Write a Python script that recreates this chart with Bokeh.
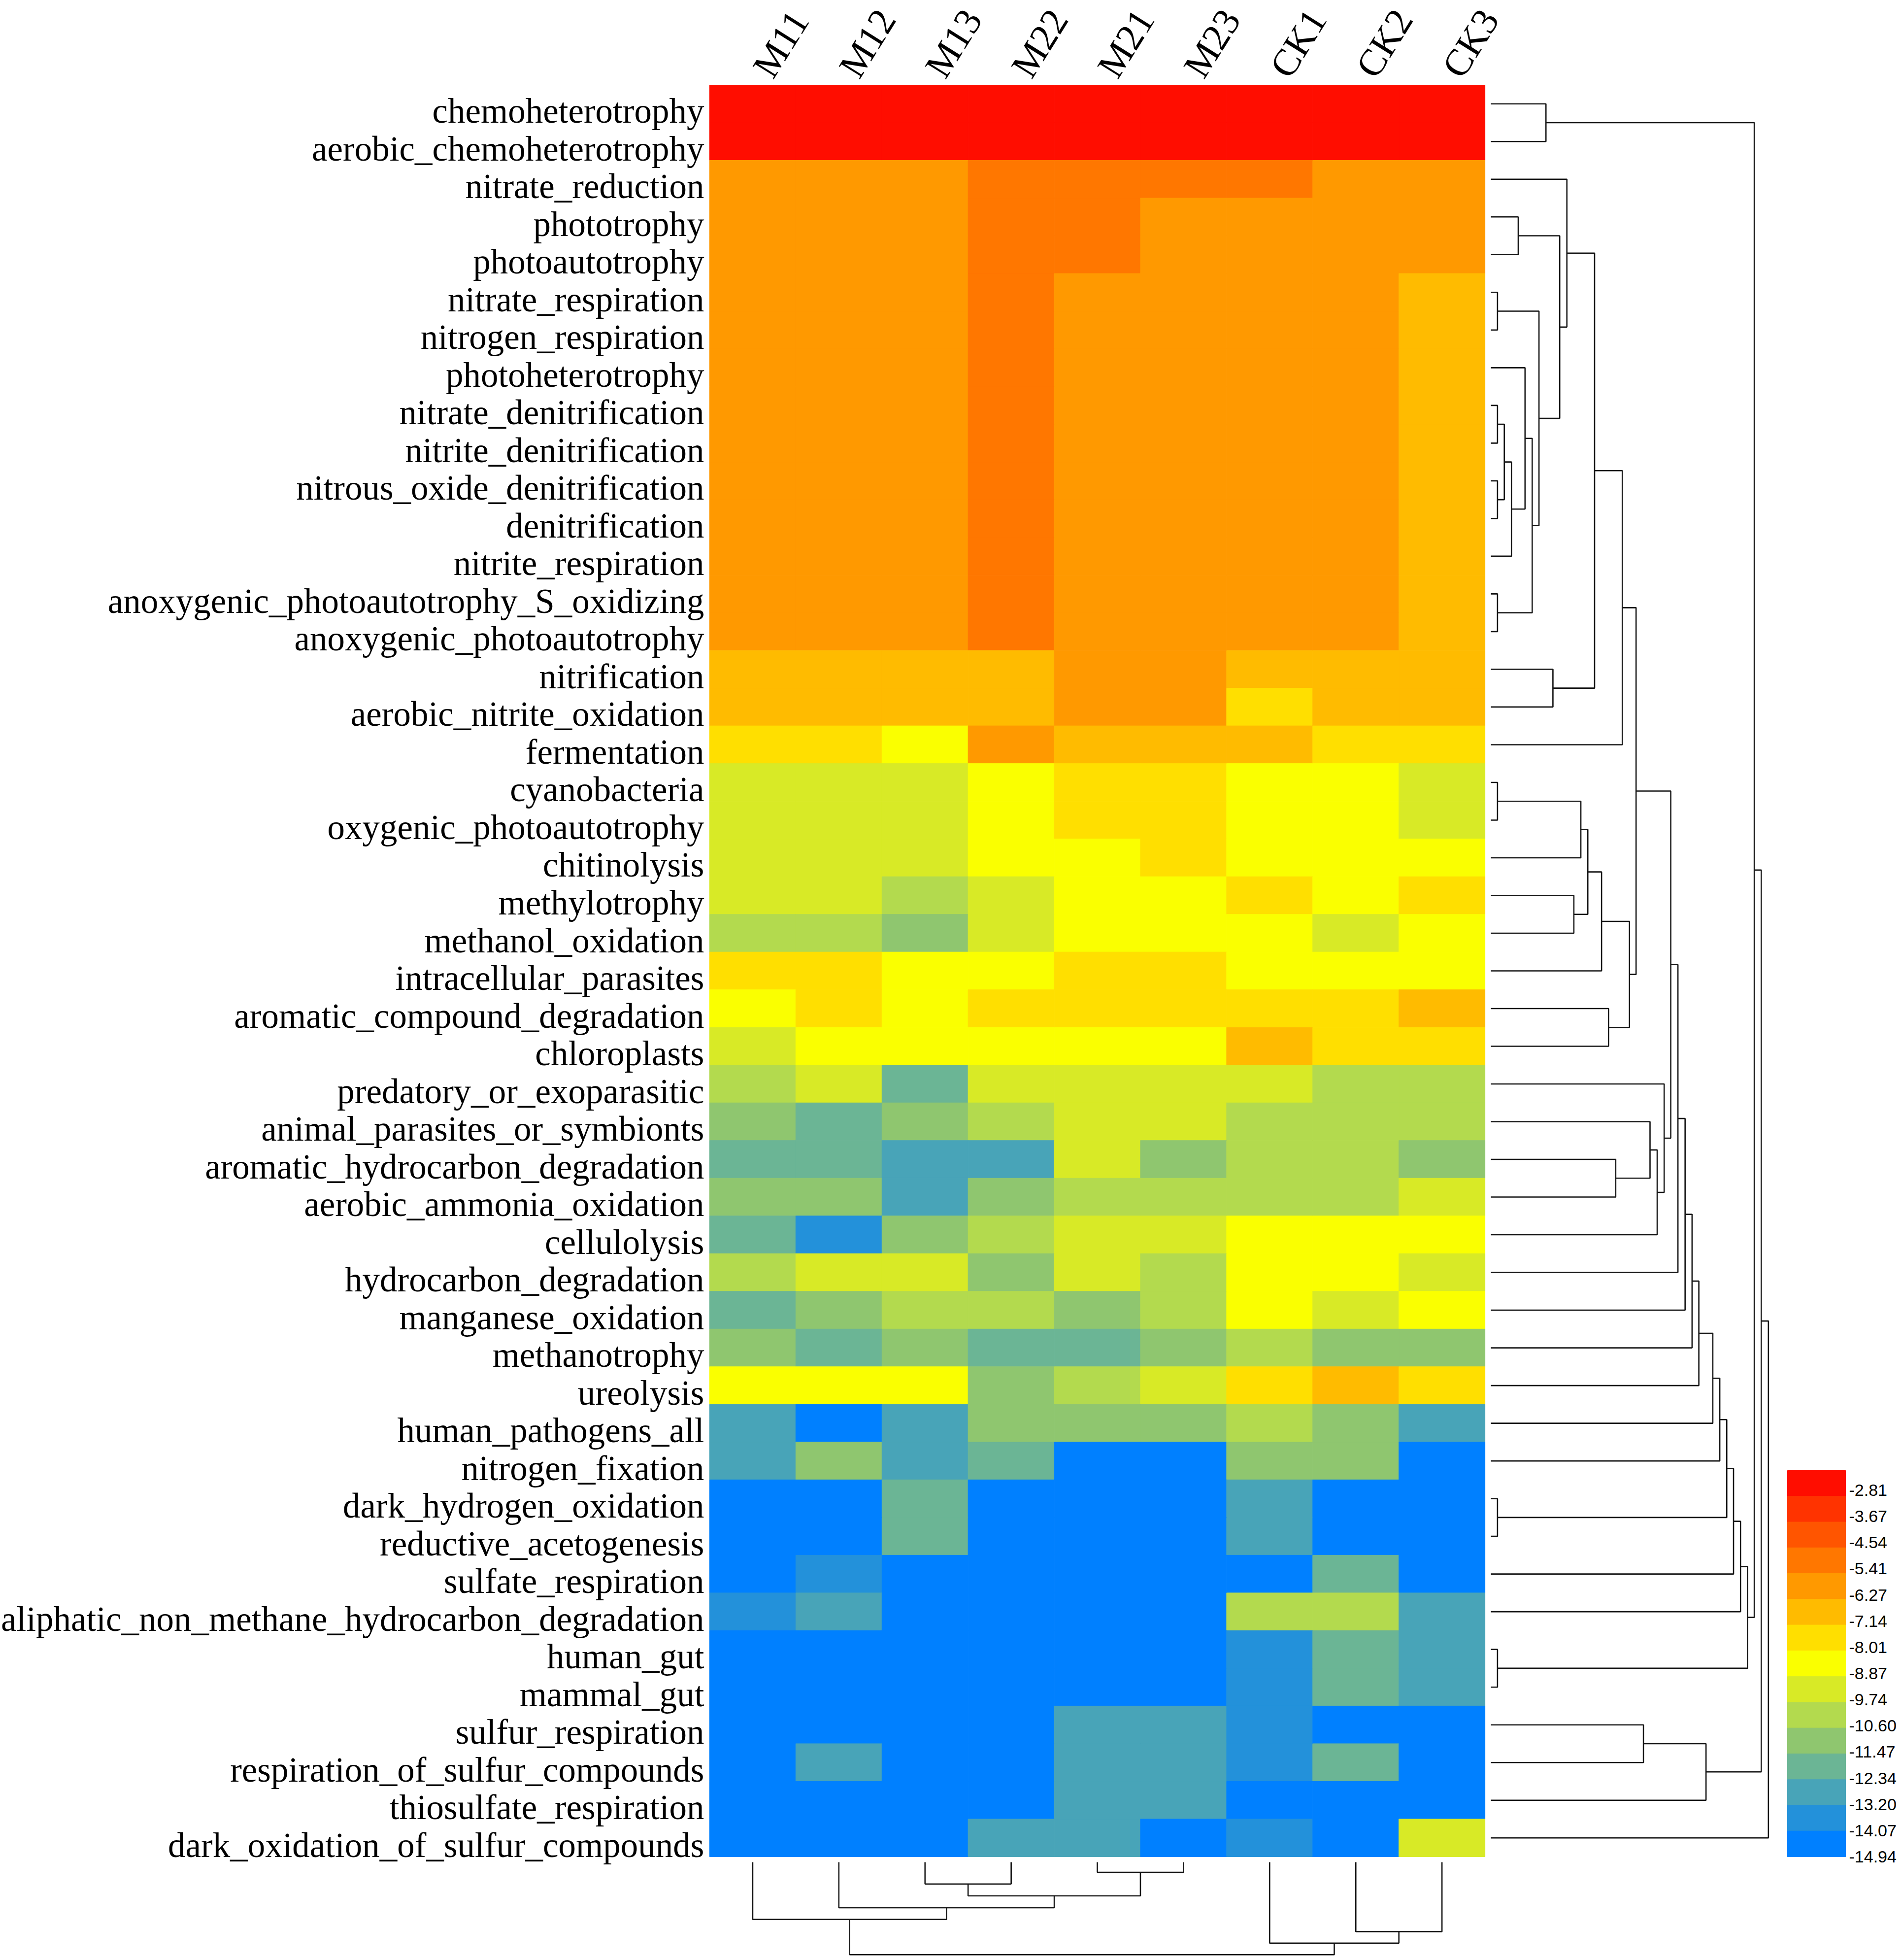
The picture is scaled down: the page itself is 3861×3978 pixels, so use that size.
import math
from bokeh.plotting import figure
from bokeh.models import ColumnDataSource, LinearColorMapper, Range1d
from bokeh.core.properties import value
from bokeh.embed import file_html
from bokeh.resources import INLINE

# ---------------- data ----------------
functions = [
    "chemoheterotrophy", "aerobic_chemoheterotrophy", "nitrate_reduction", "phototrophy",
    "photoautotrophy", "nitrate_respiration", "nitrogen_respiration", "photoheterotrophy",
    "nitrate_denitrification", "nitrite_denitrification", "nitrous_oxide_denitrification",
    "denitrification", "nitrite_respiration", "anoxygenic_photoautotrophy_S_oxidizing",
    "anoxygenic_photoautotrophy", "nitrification", "aerobic_nitrite_oxidation", "fermentation",
    "cyanobacteria", "oxygenic_photoautotrophy", "chitinolysis", "methylotrophy",
    "methanol_oxidation", "intracellular_parasites", "aromatic_compound_degradation",
    "chloroplasts", "predatory_or_exoparasitic", "animal_parasites_or_symbionts",
    "aromatic_hydrocarbon_degradation", "aerobic_ammonia_oxidation", "cellulolysis",
    "hydrocarbon_degradation", "manganese_oxidation", "methanotrophy", "ureolysis",
    "human_pathogens_all", "nitrogen_fixation", "dark_hydrogen_oxidation",
    "reductive_acetogenesis", "sulfate_respiration",
    "aliphatic_non_methane_hydrocarbon_degradation", "human_gut", "mammal_gut",
    "sulfur_respiration", "respiration_of_sulfur_compounds", "thiosulfate_respiration",
    "dark_oxidation_of_sulfur_compounds",
]

samples = ["M11", "M12", "M13", "M22", "M21", "M23", "CK1", "CK2", "CK3"]

# log relative abundance (columns in the order of `samples`)
values = [
    [-2.6, -2.6, -2.6, -2.6, -2.6, -2.6, -2.6, -2.6, -2.6],
    [-2.6, -2.6, -2.6, -2.6, -2.6, -2.6, -2.6, -2.6, -2.6],
    [-6.0, -6.0, -6.0, -5.1, -5.1, -5.1, -5.1, -6.0, -6.0],
    [-6.0, -6.0, -6.0, -5.1, -5.1, -6.0, -6.0, -6.0, -6.0],
    [-6.0, -6.0, -6.0, -5.1, -5.1, -6.0, -6.0, -6.0, -6.0],
    [-6.0, -6.0, -6.0, -5.1, -6.0, -6.0, -6.0, -6.0, -6.85],
    [-6.0, -6.0, -6.0, -5.1, -6.0, -6.0, -6.0, -6.0, -6.85],
    [-6.0, -6.0, -6.0, -5.1, -6.0, -6.0, -6.0, -6.0, -6.85],
    [-6.0, -6.0, -6.0, -5.1, -6.0, -6.0, -6.0, -6.0, -6.85],
    [-6.0, -6.0, -6.0, -5.1, -6.0, -6.0, -6.0, -6.0, -6.85],
    [-6.0, -6.0, -6.0, -5.1, -6.0, -6.0, -6.0, -6.0, -6.85],
    [-6.0, -6.0, -6.0, -5.1, -6.0, -6.0, -6.0, -6.0, -6.85],
    [-6.0, -6.0, -6.0, -5.1, -6.0, -6.0, -6.0, -6.0, -6.85],
    [-6.0, -6.0, -6.0, -5.1, -6.0, -6.0, -6.0, -6.0, -6.85],
    [-6.0, -6.0, -6.0, -5.1, -6.0, -6.0, -6.0, -6.0, -6.85],
    [-6.85, -6.85, -6.85, -6.85, -6.0, -6.0, -6.85, -6.85, -6.85],
    [-6.85, -6.85, -6.85, -6.85, -6.0, -6.0, -7.7, -6.85, -6.85],
    [-7.7, -7.7, -8.55, -6.0, -6.85, -6.85, -6.85, -7.7, -7.7],
    [-9.4, -9.4, -9.4, -8.55, -7.7, -7.7, -8.55, -8.55, -9.4],
    [-9.4, -9.4, -9.4, -8.55, -7.7, -7.7, -8.55, -8.55, -9.4],
    [-9.4, -9.4, -9.4, -8.55, -8.55, -7.7, -8.55, -8.55, -8.55],
    [-9.4, -9.4, -10.25, -9.4, -8.55, -8.55, -7.7, -8.55, -7.7],
    [-10.25, -10.25, -11.1, -9.4, -8.55, -8.55, -8.55, -9.4, -8.55],
    [-7.7, -7.7, -8.55, -8.55, -7.7, -7.7, -8.55, -8.55, -8.55],
    [-8.55, -7.7, -8.55, -7.7, -7.7, -7.7, -7.7, -7.7, -6.85],
    [-9.4, -8.55, -8.55, -8.55, -8.55, -8.55, -6.85, -7.7, -7.7],
    [-10.25, -9.4, -12.0, -9.4, -9.4, -9.4, -9.4, -10.25, -10.25],
    [-11.1, -12.0, -11.1, -10.25, -9.4, -9.4, -10.25, -10.25, -10.25],
    [-12.0, -12.0, -12.85, -12.85, -9.4, -11.1, -10.25, -10.25, -11.1],
    [-11.1, -11.1, -12.85, -11.1, -10.25, -10.25, -10.25, -10.25, -9.4],
    [-12.0, -13.7, -11.1, -10.25, -9.4, -9.4, -8.55, -8.55, -8.55],
    [-10.25, -9.4, -9.4, -11.1, -9.4, -10.25, -8.55, -8.55, -9.4],
    [-12.0, -11.1, -10.25, -10.25, -11.1, -10.25, -8.55, -9.4, -8.55],
    [-11.1, -12.0, -11.1, -12.0, -12.0, -11.1, -10.25, -11.1, -11.1],
    [-8.55, -8.55, -8.55, -11.1, -10.25, -9.4, -7.7, -6.85, -7.7],
    [-12.85, -14.6, -12.85, -11.1, -11.1, -11.1, -10.25, -11.1, -12.85],
    [-12.85, -11.1, -12.85, -12.0, -14.6, -14.6, -11.1, -11.1, -14.6],
    [-14.6, -14.6, -12.0, -14.6, -14.6, -14.6, -12.85, -14.6, -14.6],
    [-14.6, -14.6, -12.0, -14.6, -14.6, -14.6, -12.85, -14.6, -14.6],
    [-14.6, -13.7, -14.6, -14.6, -14.6, -14.6, -14.6, -12.0, -14.6],
    [-13.7, -12.85, -14.6, -14.6, -14.6, -14.6, -10.25, -10.25, -12.85],
    [-14.6, -14.6, -14.6, -14.6, -14.6, -14.6, -13.7, -12.0, -12.85],
    [-14.6, -14.6, -14.6, -14.6, -14.6, -14.6, -13.7, -12.0, -12.85],
    [-14.6, -14.6, -14.6, -14.6, -12.85, -12.85, -13.7, -14.6, -14.6],
    [-14.6, -12.85, -14.6, -14.6, -12.85, -12.85, -13.7, -12.0, -14.6],
    [-14.6, -14.6, -14.6, -14.6, -12.85, -12.85, -14.6, -14.6, -14.6],
    [-14.6, -14.6, -14.6, -12.85, -12.85, -14.6, -13.7, -14.6, -9.4],
]

legend_labels = ["-2.81", "-3.67", "-4.54", "-5.41", "-6.27", "-7.14", "-8.01", "-8.87",
                 "-9.74", "-10.60", "-11.47", "-12.34", "-13.20", "-14.07", "-14.94"]
legend_colors = ["#FF0D00", "#FF3300", "#FF5500", "#FF7700", "#FF9900", "#FFBB00", "#FFDF00",
                 "#FAFF00", "#D8EA26", "#B3DA4E", "#8FC66F", "#6BB595", "#48A4B8", "#2391DA",
                 "#0080FF"]
scale_low, scale_high = -14.97, -2.156

# row tree: (child, child, distance); ints are rows, "mK" is the K-th merge
row_merges = [
    (0, 1, 292), (3, 4, 145), (5, 6, 35), (8, 9, 35), (10, 11, 35),
    ("m4", "m5", 71), ("m6", 12, 109), (7, "m7", 181), (13, 14, 35), ("m8", "m9", 219),
    ("m3", "m10", 255), ("m2", "m11", 365), (2, "m12", 403), (15, 16, 329), ("m13", "m14", 550),
    ("m15", 17, 697), (18, 19, 35), ("m17", 20, 477), (21, 22, 440), ("m18", "m19", 514),
    ("m20", 23, 587), (24, 25, 624), ("m21", "m22", 735), ("m16", "m23", 770), (28, 29, 662),
    (27, "m25", 844), ("m26", 30, 882), (26, "m27", 919), ("m24", "m28", 954), ("m29", 31, 992),
    ("m30", 32, 1030), ("m31", 33, 1067), ("m32", 34, 1103), ("m33", 35, 1177), ("m34", 36, 1214),
    (37, 38, 35), ("m35", "m36", 1251), ("m37", 39, 1287), ("m38", 40, 1324), (41, 42, 35),
    ("m39", "m40", 1361), ("m1", "m41", 1397), (43, 44, 809), ("m43", 45, 1141), ("m42", "m44", 1434),
    ("m45", 46, 1472),
]
# column tree
col_merges = [
    (2, 3, 134), (4, 5, 62), ("m1", "m2", 207), (1, "m3", 280), (0, "m4", 352),
    (7, 8, 427), (6, "m6", 498), ("m5", "m7", 569),
]

# ---------------- layout (pixels) ----------------
W, H = 3852, 3972
HM_LEFT, HM_TOP = 1440.0, 172.0
CELL_W, CELL_H = 174.9, 76.51
ROW_TREE_X0, ROW_TREE_UPX = 3026.0, 2.613     # leaf position, distance units per pixel
COL_TREE_Y0, COL_TREE_UPX = 3779.0, 3.03
LEG_X0, LEG_X1, LEG_TOP, LEG_BAND = 3628.0, 3746.0, 2984.0, 52.27
LEG_LAB_X, LEG_LAB_TOP, LEG_LAB_STEP = 3753.0, 3024.0, 53.14
SERIF = "Liberation Serif"

p = figure(width=W, height=H,
           x_range=Range1d(-HM_LEFT / CELL_W, (W - HM_LEFT) / CELL_W),
           y_range=Range1d((H - HM_TOP) / CELL_H, -HM_TOP / CELL_H),
           output_backend="svg", toolbar_location=None,
           x_axis_location=None, y_axis_location=None,
           min_border=0, outline_line_color=None, background_fill_color="white")
p.grid.grid_line_color = None
p.extra_x_ranges = {
    "dh": Range1d(-ROW_TREE_X0 * ROW_TREE_UPX, (W - ROW_TREE_X0) * ROW_TREE_UPX),
    "px": Range1d(0, W),
}
p.extra_y_ranges = {
    "dv": Range1d((H - COL_TREE_Y0) * COL_TREE_UPX, -COL_TREE_Y0 * COL_TREE_UPX),
    "py": Range1d(H, 0),
}

# ---------------- heatmap ----------------
mapper = LinearColorMapper(palette=list(reversed(legend_colors)), low=scale_low, high=scale_high)
hx, hy, hv = [], [], []
for r, row in enumerate(values):
    for c, v in enumerate(row):
        hx.append(c + 0.5)
        hy.append(r + 0.5)
        hv.append(v)
src = ColumnDataSource(dict(x=hx, y=hy, v=hv))
p.rect(x="x", y="y", width=1, height=1, source=src,
       fill_color={"field": "v", "transform": mapper},
       line_color={"field": "v", "transform": mapper}, line_width=1)

# row labels (baseline near the lower edge of each row)
p.text(x=[-0.063] * len(functions), y=[r + 0.69 for r in range(len(functions))], text=functions,
       text_align="right", text_baseline="alphabetic", text_color="black",
       text_font=value(SERIF), text_font_size=value("71px"))

# column labels
p.text(x=[c + 0.61 for c in range(len(samples))], y=[-0.30] * len(samples), text=samples,
       angle=math.radians(58), text_align="left", text_baseline="alphabetic",
       text_color="black", text_font=value(SERIF), text_font_size=value("77px"))

# ---------------- dendrograms ----------------
def tree_segments(merges):
    pos, hgt = {}, {}

    def get(node):
        if isinstance(node, int):
            return node + 0.5, 0.0
        return pos[node], hgt[node]

    ps, hs = [], []
    for k, (a, b, h) in enumerate(merges, 1):
        pa, ha = get(a)
        pb, hb = get(b)
        ps.append([pa, pa, pb, pb])
        hs.append([ha, h, h, hb])
        pos["m%d" % k] = (pa + pb) / 2.0
        hgt["m%d" % k] = h
    return ps, hs

rp, rh = tree_segments(row_merges)
p.multi_line(xs=rh, ys=rp, x_range_name="dh", line_color="#151515", line_width=2.6)

cp, ch = tree_segments(col_merges)
p.multi_line(xs=cp, ys=ch, y_range_name="dv", line_color="#151515", line_width=2.6)

# ---------------- colour key ----------------
n = len(legend_colors)
p.rect(x=[(LEG_X0 + LEG_X1) / 2] * n,
       y=[LEG_TOP + LEG_BAND * (k + 0.5) for k in range(n)],
       width=LEG_X1 - LEG_X0, height=LEG_BAND,
       fill_color=legend_colors, line_color=legend_colors, line_width=1,
       x_range_name="px", y_range_name="py")
p.text(x=[LEG_LAB_X] * n, y=[LEG_LAB_TOP + LEG_LAB_STEP * k for k in range(n)],
       text=legend_labels, text_align="left", text_baseline="middle", text_color="black",
       text_font=value("Liberation Sans"), text_font_size=value("34px"),
       x_range_name="px", y_range_name="py")

open("out.html", "w").write(file_html(p, INLINE))
